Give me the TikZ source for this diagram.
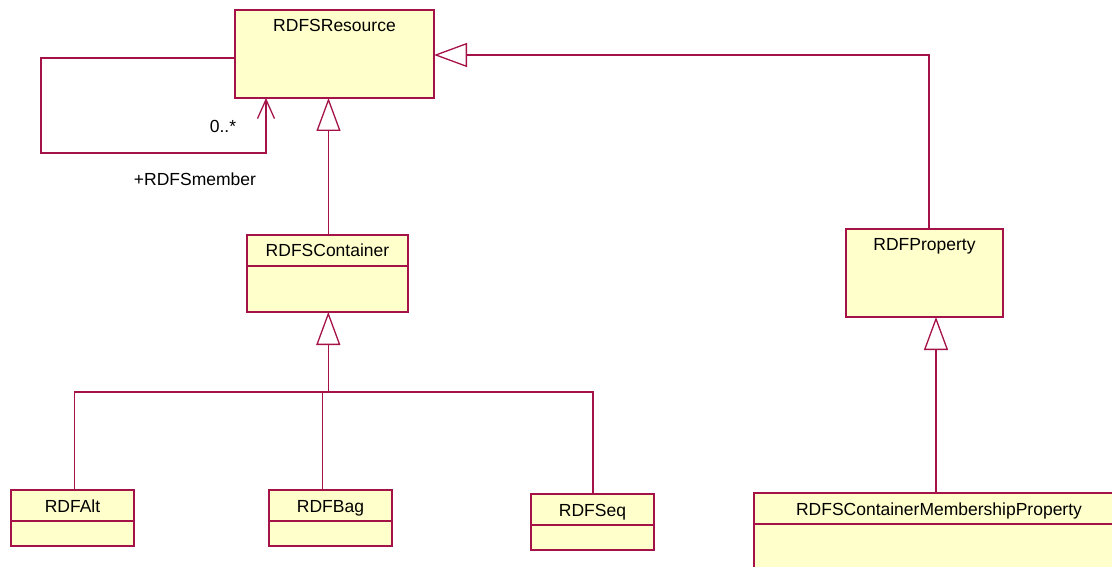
\documentclass[tikz,border=0pt]{standalone}
\usepackage{fontspec}
\setmainfont{Liberation Sans}
\usetikzlibrary{arrows.meta}
\definecolor{umlline}{RGB}{165,18,72}
\definecolor{umlfill}{RGB}{255,255,204}
\begin{document}
\begin{tikzpicture}[x=1pt,y=-1pt,
  classbox/.style={draw=umlline, fill=umlfill, line width=1.3pt, anchor=north west,
    inner sep=0pt, outer sep=0pt},
  classname/.style={font=\fontsize{17.5}{20}\selectfont, anchor=base, inner sep=0pt},
  plaintext/.style={font=\fontsize{17.5}{20}\selectfont, anchor=base, inner sep=0pt},
  link/.style={draw=umlline, line width=1.3pt},
  gen/.style={link, -{Triangle[open, length=33pt, width=24pt, fill=white]}},
  assoc/.style={link, -{Straight Barb[length=19pt, width=17pt]}}]

\useasboundingbox (0,0) rectangle (1112,567);
\clip (0,0) rectangle (1112,567);

% class boxes
\node[classbox, minimum width=199pt, minimum height=88pt] (res) at (235,10) {};
\node[classbox, minimum width=161pt, minimum height=77pt] (ctr) at (247,235) {};
\node[classbox, minimum width=157pt, minimum height=88pt] (prop) at (846,229) {};
\node[classbox, minimum width=123pt, minimum height=56pt] (alt) at (11,490) {};
\node[classbox, minimum width=123pt, minimum height=56pt] (bag) at (269,490) {};
\node[classbox, minimum width=123pt, minimum height=56pt] (seq) at (531,494) {};
\node[classbox, minimum width=370pt, minimum height=90pt] (cmp) at (754,493) {};

% compartment separators
\foreach \c in {ctr,alt,bag,seq,cmp}
  \draw[link] ([yshift=-31pt]\c.north west) -- ([yshift=-31pt]\c.north east);

% class names
\node[classname] (resT) at ([yshift=-22pt]res.north) {RDFSResource};
\node[classname] (ctrT) at ([yshift=-21pt]ctr.north) {RDFSContainer};
\node[classname] (propT) at ([yshift=-22pt]prop.north) {RDFProperty};
\node[classname] (altT) at ([yshift=-22.5pt]alt.north) {RDFAlt};
\node[classname] (bagT) at ([yshift=-22.5pt]bag.north) {RDFBag};
\node[classname] (seqT) at ([yshift=-22.5pt]seq.north) {RDFSeq};
\node[classname] (cmpT) at ([yshift=-22pt]cmp.north -| 939,0) {RDFSContainerMembershipProperty};

% self association of RDFSResource
\coordinate (loopL) at (41,153);
\draw[assoc] ([yshift=-4pt]res.west) -| (loopL) -| ([xshift=-68.5pt]res.south);
\node[plaintext] (mult) at (223,132.5) {0..*};
\node[plaintext] (role) at (195,185.3) {+RDFSmember};

% generalizations
\draw[gen] ([xshift=1pt]ctr.north) -- ([xshift=1pt]ctr.north |- res.south);
\draw[gen] ([xshift=4.5pt]prop.north) |- ([yshift=-1pt]res.east);

\coordinate (join) at (328.3,392);
\draw[gen] (join) -- (join |- ctr.south);
\draw[link] ([xshift=2pt]alt.north) |- (join);
\draw[link] ([xshift=-7.9pt]bag.north) |- (join);
\draw[link] ([xshift=0.5pt]seq.north) |- (join);

\draw[gen] (cmp.north -| 936,0) -- (936,0 |- prop.south);
\end{tikzpicture}
\end{document}
